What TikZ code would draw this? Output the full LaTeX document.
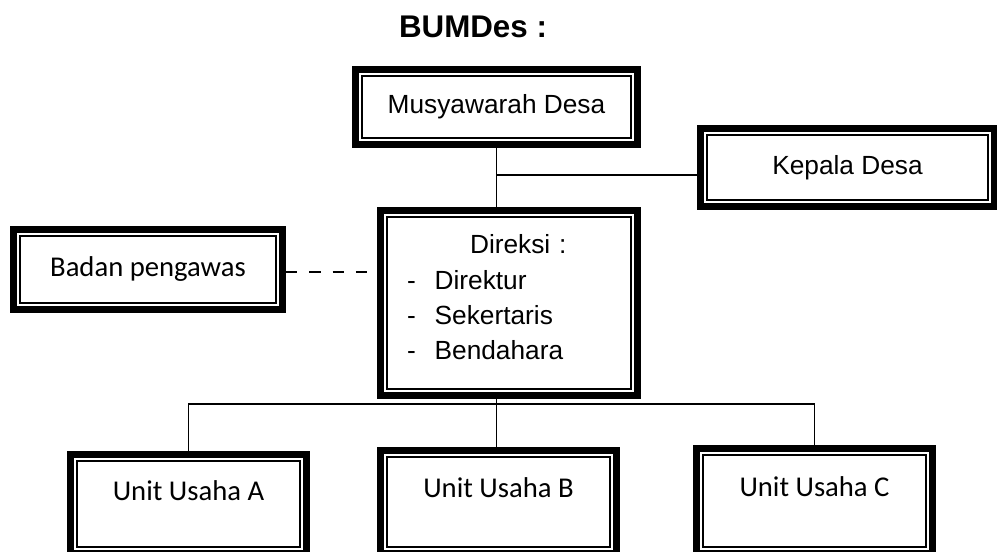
\documentclass[tikz,border=0pt]{standalone}
\usepackage{fontspec}
\setmainfont{Liberation Sans}
\newfontfamily\calibri{Carlito}

\begin{document}
\begin{tikzpicture}[x=0.75pt,y=-0.75pt,
    box/.style={draw, line width=5pt, outer sep=0pt, inner sep=0pt, font=\fontsize{19.7}{23.6}\selectfont},
    unitbox/.style={box, minimum width=177pt, text height=14pt, text depth=20pt, font=\calibri\fontsize{21.5}{25.8}\selectfont},
    inframe/.style={line width=1.2pt},
    link/.style={line width=1.1pt},
    dashlink/.style={line width=1.4pt, dash pattern=on 8.6pt off 8.9pt}]
		\useasboundingbox (0,0) rectangle (997,552);
		\clip (0,0) rectangle (997,552);

		\node[anchor=base, font=\bfseries\fontsize{23.5}{28}\selectfont] (title) at (473,38) {BUMDes :};

		% boxes
		\node[box, minimum width=211.5pt, minimum height=56.25pt] (mus) at (496.5,107) {Musyawarah Desa};
		\node[box, minimum width=220.5pt, minimum height=58.5pt] (kepala) at (847.5,167.5) {Kepala Desa};
		\node[box, minimum width=201.75pt, minimum height=60pt, font=\calibri\fontsize{21.5}{25.8}\selectfont] (badan) at (148,269.5) {Badan pengawas};
		\node[box, minimum width=192.75pt, minimum height=138.75pt, text width=153pt, align=left, font=\fontsize{19.7}{26.5}\selectfont] (dir) at (509,303)
			{\hspace*{2.4em}Direksi :\\ -\hspace{0.72em}Direktur\\ -\hspace{0.72em}Sekertaris\\ -\hspace{0.72em}Bendahara\rule[-8.3pt]{0pt}{0pt}};
		\node[unitbox, minimum height=74.25pt] (unitA) at (188.5,504) {Unit Usaha A};
		\node[unitbox, minimum height=77.25pt] (unitB) at (498.5,502) {Unit Usaha B};
		\node[unitbox, minimum height=78.75pt] (unitC) at (814.5,501) {Unit Usaha C};

		\foreach \b in {mus,kepala,badan,dir,unitA,unitB,unitC}
			\draw[inframe] ([shift={(5pt,-5pt)}]\b.north west) rectangle ([shift={(-5pt,5pt)}]\b.south east);

		% lines
		\coordinate (kj) at (496.5,175);
		\coordinate (pj) at (367,272);
		\coordinate (bar) at (496.5,404);

		\draw[link] (mus.south) -- (mus.south |- dir.north);
		\draw[link] (kj) -- (kj -| kepala.west);
		\draw[dashlink] ([xshift=2.6pt]badan.east |- pj) -- (pj);
		\draw[link] (dir.south -| bar) -- (unitB.north -| bar);
		\draw[link] (unitA.north) |- (bar) -| (unitC.north);
	\end{tikzpicture}
\end{document}
